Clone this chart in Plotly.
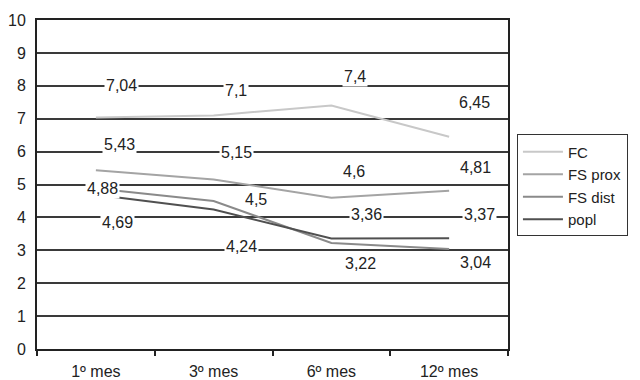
import plotly.graph_objects as go

# Follow-up visits and mean scores per measurement
months = ["1º mes", "3º mes", "6º mes", "12º mes"]
fc = [7.04, 7.1, 7.4, 6.45]
fs_prox = [5.43, 5.15, 4.6, 4.81]
fs_dist = [4.88, 4.5, 3.22, 3.04]
popl = [4.69, 4.24, 3.36, 3.37]

series_names = ["FC", "FS prox", "FS dist", "popl"]
series_values = [fc, fs_prox, fs_dist, popl]
series_colors = ["#c8c8c8", "#a4a4a4", "#8a8a8a", "#505050"]

# Pixel offsets of each value label relative to its point (dx, dy; dy up is positive)
label_offsets = [
    [(26, 32), (22, 25), (24, 29), (25, 34)],
    [(24, 26), (23, 27), (23, 26), (26, 23)],
    [(7, 0), (42, 1), (29, -20), (26, -14)],
    [(22, -28), (28, -37), (35, 24), (30, 24)],
]

font_family = "Liberation Sans, Arial, sans-serif"

fig = go.Figure()
for name, vals, color in zip(series_names, series_values, series_colors):
    fig.add_trace(go.Scatter(
        x=months, y=vals, name=name, mode="lines",
        line=dict(color=color, width=2),
    ))

annotations = []
for vals, offs in zip(series_values, label_offsets):
    for m, v, (dx, dy) in zip(months, vals, offs):
        annotations.append(dict(
            x=m, y=v, xref="x", yref="y",
            text=f"{v:g}".replace(".", ","),
            showarrow=False, xshift=dx, yshift=dy,
            bgcolor="white", borderpad=1,
            font=dict(size=16, color="#222222", family=font_family),
        ))

fig.update_layout(
    width=640, height=380,
    margin=dict(l=37, r=129, t=20, b=31),
    paper_bgcolor="white", plot_bgcolor="white",
    font=dict(family=font_family, color="#222222"),
    showlegend=True,
    legend=dict(
        x=1.019, y=0.652, xanchor="left", yanchor="top",
        bordercolor="#333333", borderwidth=1,
        font=dict(size=15, color="#222222"),
        tracegroupgap=0, itemwidth=40,
    ),
    annotations=annotations,
)
fig.update_xaxes(
    type="category", range=[-0.5, 3.5], automargin=False,
    showline=True, linecolor="#222222", linewidth=2, mirror=True,
    ticks="outside", tickson="boundaries", ticklen=5, tickwidth=1.5,
    tickcolor="#222222", showgrid=False,
    ticklabelstandoff=7,
    tickfont=dict(size=16, color="#222222"),
)
fig.update_yaxes(
    range=[0, 10], dtick=1, tick0=0, automargin=False,
    showline=True, linecolor="#222222", linewidth=2, mirror=True,
    showgrid=True, gridcolor="#3a3a3a", gridwidth=1.5,
    zeroline=False, ticks="", ticklabelstandoff=6,
    tickfont=dict(size=16, color="#222222"),
)

fig.write_html("out.html")
